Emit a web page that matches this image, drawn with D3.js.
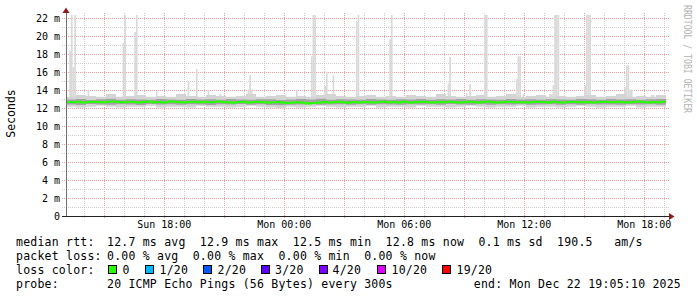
<!DOCTYPE html>
<html>
<head>
<meta charset="utf-8">
<script src="https://cdn.jsdelivr.net/npm/d3@7"></script>
<style>
body { margin: 0; background: #fff; }
svg text { font-family: "DejaVu Sans Mono", monospace; white-space: pre; }
</style>
</head>
<body>
<svg id="chart" width="697" height="297"></svg>
<script>
// median rtt in ms, one sample every 15 min from Sun 13:05
const medianRtt = [
  12.72, 12.70, 12.74, 12.68, 12.71, 12.76, 12.73, 12.69, 12.74, 12.78, 12.72,
  12.70, 12.75, 12.71, 12.66, 12.73, 12.77, 12.70, 12.72, 12.68, 12.74,
  12.79, 12.71, 12.67, 12.73, 12.76, 12.70, 12.74, 12.69, 12.72, 12.77,
  12.73, 12.70, 12.65, 12.71, 12.74, 12.68, 12.72, 12.76, 12.70, 12.66,
  12.69, 12.73, 12.64, 12.60, 12.66, 12.70, 12.63, 12.55, 12.62, 12.68,
  12.72, 12.66, 12.70, 12.74, 12.69, 12.64, 12.71, 12.67, 12.73, 12.70,
  12.66, 12.72, 12.75, 12.69, 12.71, 12.67, 12.74, 12.70, 12.68, 12.73,
  12.76, 12.70, 12.67, 12.72, 12.69, 12.74, 12.71, 12.66, 12.70, 12.75,
  12.72, 12.68, 12.73, 12.77, 12.70, 12.67, 12.72, 12.75, 12.69, 12.73,
  12.70, 12.66, 12.71, 12.76, 12.72, 12.68, 12.74, 12.70, 12.67, 12.72,
  12.75, 12.69, 12.73, 12.70, 12.66, 12.71, 12.76, 12.72, 12.69, 12.74,
  12.70, 12.67, 12.73, 12.77, 12.71, 12.68, 12.72, 12.70, 12.74, 12.71
];

// smoke band edges, one sample every 30 min from Sun 13:05
const smokeOuterLow = [
  12.2, 12.1, 12.2, 12.3, 12.2, 12.1, 12.2, 12.2, 12.3, 12.1, 12.2, 12.2, 12.1, 12.3, 12.2, 12.2,
  12.1, 12.2, 12.3, 12.2, 12.1, 12.0, 12.2, 12.1, 12.2, 12.3, 12.2, 12.1, 12.2, 12.2, 12.3, 12.1,
  12.2, 12.2, 12.1, 12.3, 12.2, 12.2, 12.1, 12.2, 12.3, 12.2, 12.1, 12.2, 12.2, 12.3, 12.1, 12.2,
  12.2, 12.1, 12.2, 12.3, 12.2, 12.1, 12.2, 12.2, 12.3, 12.1, 12.2, 12.2, 12.2
];
const smokeInnerLow = [
  12.45, 12.40, 12.50, 12.45, 12.42, 12.48, 12.45, 12.40, 12.50, 12.44, 12.46, 12.42, 12.48, 12.45, 12.40, 12.47,
  12.44, 12.49, 12.42, 12.46, 12.38, 12.35, 12.42, 12.44, 12.47, 12.41, 12.45, 12.48, 12.43, 12.46, 12.42, 12.47,
  12.45, 12.41, 12.48, 12.44, 12.46, 12.42, 12.49, 12.45, 12.43, 12.47, 12.41, 12.46, 12.44, 12.48, 12.42, 12.45,
  12.47, 12.43, 12.46, 12.41, 12.48, 12.44, 12.45, 12.42, 12.47, 12.44, 12.46, 12.43, 12.45
];
const smokeInnerHigh = [
  13.00, 13.05, 12.95, 13.02, 13.08, 12.98, 13.04, 13.00, 12.96, 13.06, 13.01, 12.97, 13.05, 13.00, 13.03, 12.98,
  13.06, 13.00, 12.96, 13.04, 13.02, 12.95, 12.99, 13.05, 13.00, 13.07, 12.98, 13.03, 13.00, 12.97, 13.05, 13.01,
  12.98, 13.04, 13.00, 13.06, 12.97, 13.02, 13.00, 13.05, 12.98, 13.03, 13.01, 12.96, 13.05, 13.00, 13.03, 12.98,
  13.04, 13.00, 12.97, 13.05, 13.02, 12.98, 13.06, 13.00, 13.03, 12.97, 13.02, 13.05, 13.00
];
const smokeOuterHigh = [
  13.3, 13.5, 13.4, 13.3, 13.6, 13.3, 13.4, 13.5, 13.3, 13.4, 13.3, 13.6, 13.4, 13.3, 13.5, 13.4,
  13.3, 13.4, 13.6, 13.3, 13.4, 13.5, 13.3, 13.4, 13.3, 13.5, 13.6, 13.4, 13.3, 13.4, 13.5, 13.3,
  13.4, 13.3, 13.5, 13.4, 13.3, 13.6, 13.4, 13.3, 13.4, 13.5, 13.3, 13.4, 13.6, 13.3, 13.4, 13.5,
  13.3, 13.4, 13.3, 13.4, 13.5, 13.3, 13.4, 13.6, 13.3, 13.4, 13.3, 13.5, 13.4
];

// slow pings (max of the 20), 5 min bins
const spikeTimes = [
  "12-21 13:15", "12-21 13:20", "12-21 13:25", "12-21 13:30", "12-21 14:10", "12-21 15:55", "12-21 16:00",
  "12-21 16:30", "12-21 16:35", "12-21 17:35", "12-21 19:10", "12-21 19:35", "12-21 20:10", "12-21 20:45",
  "12-21 22:10", "12-21 22:15", "12-21 22:20", "12-22 00:35", "12-22 01:20", "12-22 01:25", "12-22 01:30",
  "12-22 02:00", "12-22 02:05", "12-22 02:25", "12-22 03:35", "12-22 03:40", "12-22 05:15", "12-22 05:20",
  "12-22 08:10", "12-22 08:15", "12-22 09:05", "12-22 09:15", "12-22 10:00", "12-22 10:05", "12-22 11:35",
  "12-22 11:40", "12-22 11:45", "12-22 11:55", "12-22 13:15", "12-22 13:20", "12-22 13:25", "12-22 13:30",
  "12-22 13:35", "12-22 13:40", "12-22 15:00", "12-22 15:05", "12-22 15:10", "12-22 15:15", "12-22 17:00",
  "12-22 17:05", "12-22 17:10", "12-22 17:15", "12-22 17:20", "12-22 18:20", "12-22 18:25"
];
const spikeMax = [
  18.4, 22.5, 16.6, 22.5, 14.1, 19.3, 22.5,
  20.5, 22.5, 13.9, 15.1, 16.4, 14.1, 13.6,
  14.1, 15.7, 14.1, 14.1, 17.8, 22.5, 22.5,
  14.5, 16.1, 15.7, 21.7, 22.5, 19.7, 22.5,
  14.8, 17.7, 13.7, 14.7, 22.5, 22.5, 15.3,
  17.8, 17.8, 13.6, 13.6, 13.6, 14.6, 22.5,
  22.5, 22.5, 14.6, 22.5, 22.5, 22.5, 14.4,
  16.8, 16.8, 14.1, 14.1, 13.5, 13.5
];

const yTickLabels = ["0", "2 m", "4 m", "6 m", "8 m", "10 m", "12 m", "14 m", "16 m", "18 m", "20 m", "22 m"];

const rttStats = ["12.7", "12.9", "12.5", "12.8"];
const statKinds = ["avg", "max", "min", "now"];
const rttSd = "0.1";
const rttAms = "190.5";
const lossStats = ["0.00", "0.00", "0.00", "0.00"];
const lossLabels = ["0", "1/20", "2/20", "3/20", "4/20", "10/20", "19/20"];
const lossColors = ["#26ff00", "#00b8ff", "#0059ff", "#5e00ff", "#7e00ff", "#dd00ff", "#ff0000"];
const probeText = "20 ICMP Echo Pings (56 Bytes) every 300s";
const endText = "end: Mon Dec 22 19:05:10 2025";

const svg = d3.select("#chart");
const parseT = d3.timeParse("%Y-%m-%d %H:%M");
const t0 = new Date(2025, 11, 21, 13, 5, 10);
const t1 = new Date(2025, 11, 22, 19, 5, 10);

const x = d3.scaleTime().domain([t0, t1]).range([66, 666]);
const y = d3.scaleLinear().domain([0, 200 / 9]).range([216.5, 16.5]);

const medTimes = medianRtt.map((d, i) => d3.timeMinute.offset(t0, i * 15));
const smokeTimes = smokeOuterLow.map((d, i) => d3.timeMinute.offset(t0, i * 30));

// grid
const grid = svg.append("g");
const hourTicks = x.ticks(d3.timeHour.every(1));
hourTicks.forEach(t => {
    const px = Math.round(x(t)) + 0.5;
    const major = t.getHours() % 3 == 0;
    grid.append("line").attr("x1", px).attr("x2", px).attr("y1", 13).attr("y2", 219)
        .attr("stroke", major ? "#eba0a0" : "#cccccc")
        .attr("stroke-dasharray", "1,1");
});
d3.range(1, 23).forEach(v => {
    const py = y(v);
    grid.append("line").attr("x1", 62).attr("x2", 669).attr("y1", py).attr("y2", py)
        .attr("stroke", v % 2 == 0 ? "#eba0a0" : "#cccccc")
        .attr("stroke-dasharray", "1,1");
});

// plot clip
svg.append("clipPath").attr("id", "plotclip")
    .append("rect").attr("x", 66).attr("y", 15).attr("width", 600).attr("height", 202);
const plot = svg.append("g").attr("clip-path", "url(#plotclip)");

// spikes
plot.selectAll("rect.spike")
    .data(spikeTimes.map((s, i) => ({ t: parseT("2025-" + s), v: spikeMax[i] })))
    .enter().append("rect").attr("class", "spike")
    .attr("x", d => x(d.t))
    .attr("width", d => x(d3.timeMinute.offset(d.t, 5)) - x(d.t))
    .attr("y", d => y(d.v))
    .attr("height", d => y(12.8) - y(d.v))
    .attr("fill", "#d9d9d9");

// smoke
const smoke = [
    { lo: smokeOuterLow, hi: smokeOuterHigh, color: "#d4d4d4" },
    { lo: smokeInnerLow, hi: smokeInnerHigh, color: "#a3a3a3" }
];
smoke.forEach(s => {
    const area = d3.area()
        .x((d, i) => x(smokeTimes[i]))
        .y0((d, i) => y(s.lo[i]))
        .y1((d, i) => y(s.hi[i]))
        .curve(d3.curveStepAfter);
    plot.append("path").datum(s.lo).attr("d", area).attr("fill", s.color);
});

// median line
const line = d3.line()
    .x((d, i) => x(medTimes[i]))
    .y(d => y(d))
    .curve(d3.curveStepAfter);
plot.append("path").datum(medianRtt).attr("d", line)
    .attr("fill", "none").attr("stroke", lossColors[0]).attr("stroke-width", 2);

// axes
svg.append("line").attr("x1", 66).attr("x2", 66).attr("y1", 12).attr("y2", 217)
    .attr("stroke", "#707070").attr("shape-rendering", "crispEdges");
svg.append("line").attr("x1", 62).attr("x2", 670).attr("y1", 216.5).attr("y2", 216.5)
    .attr("stroke", "#222");
svg.append("path").attr("d", "M62.5,13 L66,7.5 L69.5,13 Z").attr("fill", "#8b1c1c");
svg.append("path").attr("d", "M669,213 L674.5,216.5 L669,220 Z").attr("fill", "#8b1c1c");

// y labels
d3.range(0, 23, 2).forEach((v, i) => {
    svg.append("text").attr("x", 60).attr("y", y(v) + 3.8)
        .attr("text-anchor", "end").style("font-size", "10px")
        .text(yTickLabels[i]);
});

// x labels
x.ticks(d3.timeHour.every(6)).forEach(t => {
    svg.append("text").attr("x", x(t)).attr("y", 227.5)
        .attr("text-anchor", "middle").style("font-size", "10px")
        .text(d3.timeFormat("%a %H:%M")(t));
});

// titles
svg.append("text").attr("transform", "translate(15,113.5) rotate(-90)")
    .attr("text-anchor", "middle").style("font-size", "11.5px")
    .text("Seconds");
svg.append("text").attr("transform", "translate(684,5) rotate(90)")
    .style("font-size", "10.5px").attr("fill", "#b4b4b4")
    .attr("textLength", 108).attr("lengthAdjust", "spacingAndGlyphs")
    .text("RRDTOOL / TOBI OETIKER");

// legend
const legend = svg.append("g").style("font-size", "11.5px").style("letter-spacing", "0.22px");
const rows = [245.5, 259.5, 273.5, 287.5];
const labels = ["median rtt:", "packet loss:", "loss color:", "probe:"];
labels.forEach((l, i) => legend.append("text").attr("x", 16).attr("y", rows[i]).text(l));

let rttLine = rttStats.map((v, i) => v + " ms " + statKinds[i]).join("  ");
rttLine += "  " + rttSd + " ms sd  " + rttAms + "   am/s";
legend.append("text").attr("x", 107).attr("y", rows[0]).text(rttLine);
legend.append("text").attr("x", 107).attr("y", rows[1])
    .text(lossStats.map((v, i) => v + " % " + statKinds[i]).join("  "));

const boxX = [108, 145, 203, 261, 319, 377, 442];
const labelX = [122.5, 159.5, 217.5, 275, 332.5, 391.5, 456.5];
lossLabels.forEach((l, i) => {
    legend.append("rect").attr("x", boxX[i] + 0.5).attr("y", 265.5)
        .attr("width", 8).attr("height", 8)
        .attr("fill", lossColors[i]).attr("stroke", "#000");
    legend.append("text").attr("x", labelX[i]).attr("y", rows[2]).text(l);
});

legend.append("text").attr("x", 107).attr("y", rows[3]).text(probeText);
legend.append("text").attr("x", 681).attr("y", rows[3]).attr("text-anchor", "end").text(endText);
</script>
</body>
</html>
